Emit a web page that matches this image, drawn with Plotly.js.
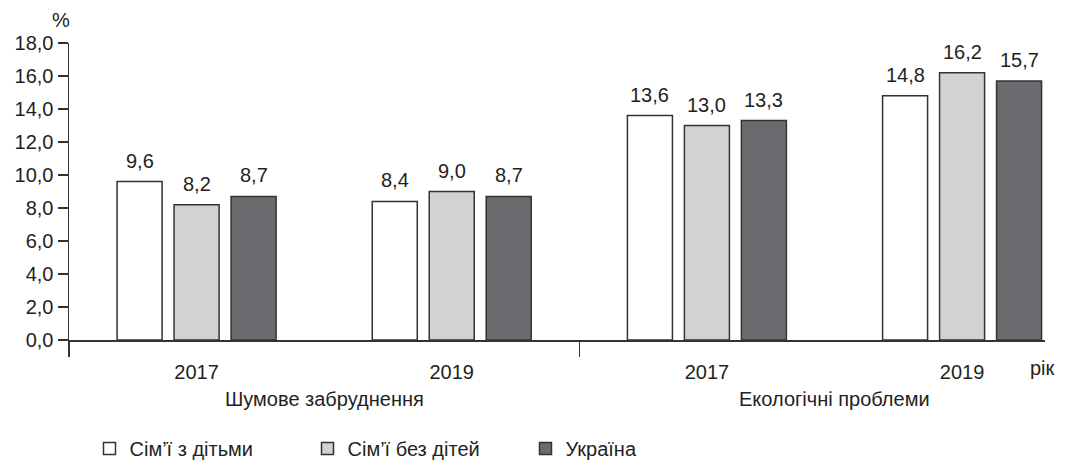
<!DOCTYPE html>
<html>
<head>
<meta charset="utf-8">
<script src="https://cdn.plot.ly/plotly-3.0.1.min.js"></script>
<style>html,body{margin:0;padding:0;background:#fff;}#chart{width:1068px;height:460px;}</style>
</head>
<body>
<div id="chart"></div>
<script>
const positions = [0, 1, 2, 3];
const yearLabels = ['2017', '2019', '2017', '2019'];
const groupLabels = ['Шумове забруднення', 'Екологічні проблеми'];
const groupCenters = [0.5, 2.5];
const separators = [-0.5, 1.5];
const seriesNames = ['Сім’ї з дітьми', 'Сім’ї без дітей', 'Україна'];
const withChildren = [9.6, 8.4, 13.6, 14.8];
const withoutChildren = [8.2, 9.0, 13.0, 16.2];
const ukraine = [8.7, 8.7, 13.3, 15.7];
const seriesValues = [withChildren, withoutChildren, ukraine];
const seriesColors = ['#ffffff', '#d1d2d4', '#6a6b6f'];

const FONT = 'Liberation Sans, Arial, sans-serif';
const TXT = '#231f20';
const FS = 20;

const W = 1068, H = 460;
const margin = {l: 69, r: 23, t: 43, b: 120};
const xrange = [-0.5, 3.325];
const bargap = 0.33;
const pxPerUnit = (W - margin.l - margin.r) / (xrange[1] - xrange[0]);
const slotPx = (1 - bargap) / seriesValues.length * pxPerUnit;

const traces = seriesValues.map((vals, i) => ({
  type: 'bar',
  name: seriesNames[i],
  x: positions,
  y: vals,
  marker: {color: seriesColors[i], line: {color: '#333333', width: 1.5}},
  hoverinfo: 'none'
}));
traces.push({type: 'scatter', x: separators, y: [0, 0], xaxis: 'x2', yaxis: 'y', mode: 'none', showlegend: false, hoverinfo: 'none'});

const annotations = [];
seriesValues.forEach((vals, i) => {
  vals.forEach((v, j) => {
    annotations.push({
      text: v.toFixed(1).replace('.', ','), x: positions[j], y: v, xref: 'x', yref: 'y',
      xshift: (i - (seriesValues.length - 1) / 2) * slotPx, yanchor: 'bottom', yshift: 8,
      showarrow: false, font: {family: FONT, size: FS, color: TXT}
    });
  });
});
groupLabels.forEach((t, i) => annotations.push({
  text: t, x: groupCenters[i], xref: 'x', y: -0.2, yref: 'paper',
  yanchor: 'middle', showarrow: false, font: {family: FONT, size: FS, color: TXT}
}));
annotations.push({text: '%', xref: 'paper', x: 0, xanchor: 'center', xshift: -8, yref: 'paper', y: 1, yanchor: 'bottom', yshift: 10, showarrow: false, font: {family: FONT, size: FS, color: TXT}});
annotations.push({text: 'рік', xref: 'paper', x: 1, xanchor: 'right', xshift: 12, yref: 'paper', y: -0.094, yanchor: 'middle', showarrow: false, font: {family: FONT, size: FS, color: TXT}});

const layout = {
  width: W, height: H,
  margin: margin,
  paper_bgcolor: '#fff', plot_bgcolor: '#fff',
  separators: ', ',
  barmode: 'group', bargap: bargap, bargroupgap: 0.21,
  font: {family: FONT, color: TXT},
  xaxis: {
    range: xrange, tickmode: 'array', tickvals: positions, ticktext: yearLabels,
    ticks: 'outside', ticklen: 13, tickcolor: 'rgba(0,0,0,0)',
    showline: true, linecolor: '#333', linewidth: 1.5, showgrid: false, zeroline: false,
    tickfont: {family: FONT, size: FS, color: TXT}
  },
  xaxis2: {
    range: xrange, overlaying: 'x', anchor: 'y', side: 'bottom',
    tickmode: 'array', tickvals: separators, ticks: 'outside', ticklen: 16, tickwidth: 1.5, tickcolor: '#333',
    showticklabels: false, showline: false, showgrid: false, zeroline: false
  },
  yaxis: {
    range: [0, 18], tickmode: 'linear', tick0: 0, dtick: 2, tickformat: '.1f',
    ticks: 'outside', ticklen: 10, tickwidth: 1.5, tickcolor: '#333',
    showline: true, linecolor: '#333', linewidth: 1.5, showgrid: false, zeroline: false,
    tickfont: {family: FONT, size: FS, color: TXT}
  },
  showlegend: true,
  legend: {
    orientation: 'h', x: 0.021, xanchor: 'left', yref: 'container', y: 0.025, yanchor: 'middle',
    entrywidth: 173, entrywidthmode: 'pixels',
    font: {family: FONT, size: FS, color: TXT}, traceorder: 'normal'
  },
  annotations: annotations
};
Plotly.newPlot('chart', traces, layout, {displayModeBar: false, staticPlot: true});
</script>
</body>
</html>
